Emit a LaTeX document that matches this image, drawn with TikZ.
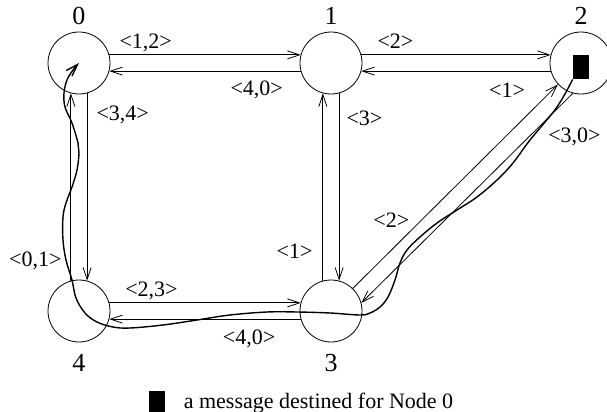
\documentclass[tikz,border=0pt]{standalone}
\usepackage{fontspec}
\setmainfont{Liberation Serif}
\usetikzlibrary{arrows.meta,positioning}

\tikzset{
  router/.style={draw, circle, minimum size=31pt, inner sep=0pt},
  msgbox/.style={fill=black, minimum width=8pt, minimum height=12pt, inner sep=0pt},
  lbl/.style={inner sep=0pt, text height=7.5pt, text depth=1.5pt},
  every label/.style={font=\fontsize{13}{15}\selectfont},
}

\begin{document}
\begin{tikzpicture}[x=0.5pt, y=-0.5pt, font=\fontsize{11}{13}\selectfont, >={Straight Barb[length=6pt,width=4pt]}]

\useasboundingbox (0,0) rectangle (607,412);

\node[router, label={[label distance=0pt]above:0}] at (79,63) (n0){};
\node[router, label={[label distance=0pt]above:1}] at (331,63) (n1){};
\node[router, label={[label distance=0pt]above:2}] at (581,63) (n2){};
\node[router, label={[label distance=2.5pt]below:3}] at (331,311) (n3){};
\node[router, label={[label distance=2.5pt]below:4}] at (79,311) (n4){};

\node[msgbox] at (581,67) (msg){};

\draw[->] (n0.15) -- (n1.165) node[lbl, pos=0.19, above=1.3pt]{<1,2>};
\draw[->] (n1.195) -- (n0.345) node[lbl, pos=0.23, below=4.7pt]{<4,0>};

\draw[->] (n1.15) -- (n2.165) node[lbl, pos=0.18, above=1.3pt]{<2>};
\draw[->] (n2.195) -- (n1.345) node[lbl, pos=0.23, below=5.7pt]{<1>};

\draw[->] (n0.285) -- (n4.75) node[lbl, pos=0.114, right=4.5pt]{<3,4>};
\draw[->] (n4.105) -- (n0.255) node[lbl, pos=0.11, left=4.5pt]{<0,1>};

\draw[->] (n1.285) -- (n3.75) node[lbl, pos=0.14, right=3.5pt]{<3>};
\draw[->] (n3.105) -- (n1.255) node[lbl, pos=0.15, left=5pt]{<1>};

\draw[->] (n4.15) -- (n3.165) node[lbl, pos=0.22, above=1.3pt]{<2,3>};
\draw[->] (n3.195) -- (n4.345) node[lbl, pos=0.27, below=5.2pt]{<4,0>};

\draw[->] (n3.46.5) -- (n2.223) node[lbl, pos=0.28, above left=0.4pt]{<2>};
\draw[->] (n2.255) -- (n3.15) node[lbl, pos=0.14, below right=3.3pt]{<3,0>};

% route of the message
\draw[->, line width=0.7pt] plot[smooth, tension=0.6] coordinates {(msg.south west)
  (557,107) (530,140) (513,163) (497,180) (477,197) (457,210) (437,223) (420,237)
  (407,250) (400,263) (395,280) (388,297) (380,307) (370,313) (360,315) (330,313)
  (297,312) (267,312) (230,315) (197,320) (163,325) (130,328) (113,327) (97,322)
  (85,313) (76,298) (72,280) (66,260) (63,240) (63,217) (66,203) (72,187) (77,170)
  (79,153) (78,143) (72,123) (65,107) (64,93) (67,80) (73,70) (n0.center)};

\node[msgbox] at (157,403) (key){};
\node[right=9pt of key, inner sep=0pt] (legend){a message destined for Node 0};

\end{tikzpicture}
\end{document}
